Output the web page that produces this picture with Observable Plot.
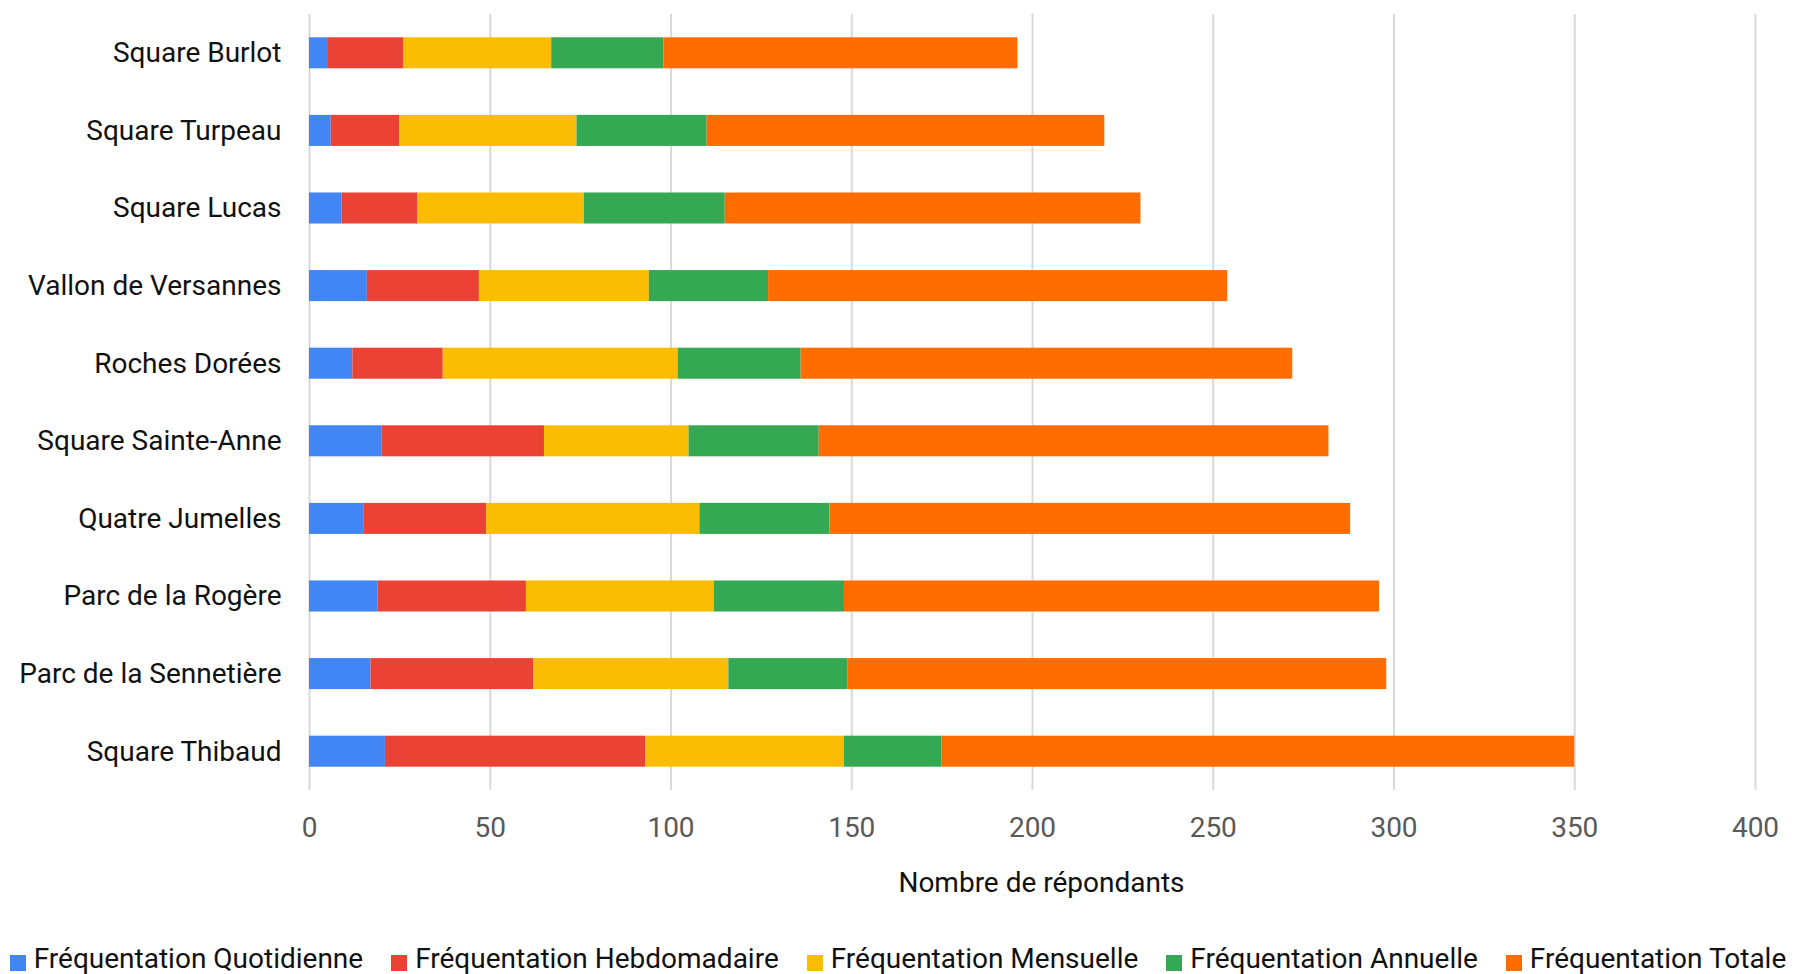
<!DOCTYPE html>
<html><head><meta charset="utf-8">
<script src="https://cdn.jsdelivr.net/npm/d3@7"></script>
<script src="https://cdn.jsdelivr.net/npm/@observablehq/plot@0.6"></script>
<style>
body{margin:0;background:#fff;font-family:Roboto, "Liberation Sans", sans-serif;}
#chart{position:relative;width:1796px;height:974px;overflow:hidden;}
#legend{position:absolute;left:0;top:940px;width:1796px;display:flex;justify-content:center;gap:28px;font-size:28px;line-height:38px;color:#111;white-space:nowrap;}
.item{display:flex;align-items:center;}
.sw{width:16px;height:16px;margin-right:8px;margin-top:8px;}
</style></head><body><div id="chart"></div>
<script>
const parks = ["Square Burlot","Square Turpeau","Square Lucas","Vallon de Versannes","Roches Dorées","Square Sainte-Anne","Quatre Jumelles","Parc de la Rogère","Parc de la Sennetière","Square Thibaud"];
const seriesNames = ["Fréquentation Quotidienne","Fréquentation Hebdomadaire","Fréquentation Mensuelle","Fréquentation Annuelle","Fréquentation Totale"];
const seriesColors = ["#4285F4","#EA4335","#FBBC04","#34A853","#FF6D01"];
const quotidienne = [5,6,9,16,12,20,15,19,17,21];
const hebdomadaire = [21,19,21,31,25,45,34,41,45,72];
const mensuelle = [41,49,46,47,65,40,59,52,54,55];
const annuelle = [31,36,39,33,34,36,36,36,33,27];
const totale = [98,110,115,127,136,141,144,148,149,175];
const xTicks = [0,50,100,150,200,250,300,350,400];
const xTitle = "Nombre de répondants";

const valuesBySeries = [quotidienne, hebdomadaire, mensuelle, annuelle, totale];
const data = [];
parks.forEach((p, i) => {
  seriesNames.forEach((s, j) => data.push({park: p, serie: s, value: valuesBySeries[j][i]}));
});

const W = 1796, H = 930;
const chart = Plot.plot({
  width: W, height: H,
  marginLeft: 309, marginRight: 41, marginTop: 14, marginBottom: H - 790,
  style: {fontFamily: "Roboto, 'Liberation Sans', sans-serif", fontSize: "28px", background: "#fff", overflow: "visible"},
  x: {domain: [0, 400], ticks: xTicks},
  y: {domain: parks, paddingInner: 0.6, paddingOuter: 0.3, round: false},
  color: {domain: seriesNames, range: seriesColors},
  marks: [
    Plot.gridX(xTicks, {stroke: "#d9d9d9", strokeOpacity: 1, strokeWidth: 2}),
    Plot.barX(data, Plot.stackX({x: "value", y: "park", fill: "serie", order: seriesNames})),
    Plot.axisY({tickSize: 0, tickPadding: 28, fill: "#111", label: null}),
    Plot.axisX(xTicks, {tickSize: 0, tickPadding: 27, fill: "#595959", label: null}),
    Plot.text([xTitle], {text: d => d, frameAnchor: "bottom", dy: 101, dx: 9, fill: "#111"})
  ]
});
document.getElementById("chart").appendChild(chart);

const legend = document.createElement("div");
legend.id = "legend";
seriesNames.forEach((s, j) => {
  const it = document.createElement("div"); it.className = "item";
  const sw = document.createElement("span"); sw.className = "sw"; sw.style.background = seriesColors[j];
  const tx = document.createElement("span"); tx.textContent = s;
  it.appendChild(sw); it.appendChild(tx); legend.appendChild(it);
});
document.getElementById("chart").appendChild(legend);
</script>
</body></html>
